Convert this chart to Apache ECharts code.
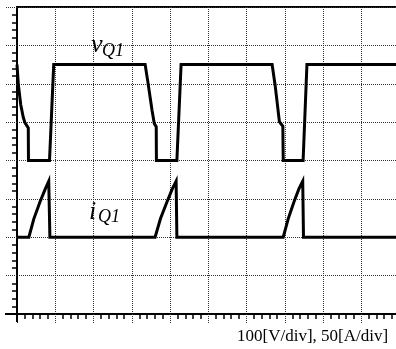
<!DOCTYPE html>
<html>
<head>
<meta charset="utf-8">
<script src="https://cdn.jsdelivr.net/npm/echarts@6/dist/echarts.min.js"></script>
<style>
  html, body { margin: 0; padding: 0; background: #fff; overflow: hidden; }
  /* the plot runs a few pixels past the right edge of the window */
  #chart { width: 400px; height: 349px; }
</style>
</head>
<body>
<div id="chart"></div>
<script>
// Time axis in screen divisions; voltage in V (100 V/div), current in A (50 A/div)
const vTime = [0, 0.034, 0.097, 0.165, 0.21, 0.295, 0.3, 0.85, 0.96,
               3.35, 3.43, 3.53, 3.59, 3.64, 3.645, 4.18, 4.29,
               6.67, 6.75, 6.86, 6.95, 6.96, 7.48, 7.58, 10];
const vQ1 =   [250, 199, 146, 112, 98, 85, 0, 0, 250,
               250, 199, 131, 96, 88, 0, 0, 250,
               250, 195, 101, 89, 0, 0, 250, 250];

const iTime = [0, 0.31, 0.44, 0.6, 0.74, 0.83, 0.86,
               3.61, 3.75, 3.92, 4.06, 4.16, 4.18,
               6.96, 7.09, 7.24, 7.37, 7.47, 7.49, 10];
const iQ1 =   [0, 0, 24, 46, 63, 73, 0,
               0, 24, 46, 63, 73, 0,
               0, 24, 46, 63, 73, 0, 0];

// Trace offsets on screen (divisions from the bottom edge)
const V_PER_DIV = 100, V_ZERO_DIV = 4;
const A_PER_DIV = 50, A_ZERO_DIV = 2;

const vPoints = vTime.map((t, k) => [t, vQ1[k] / V_PER_DIV + V_ZERO_DIV]);
const iPoints = iTime.map((t, k) => [t, iQ1[k] / A_PER_DIV + A_ZERO_DIV]);

const gridDot = { color: '#333', width: 1, type: [1, 1] };
const serif = '"Liberation Serif", "DejaVu Serif", serif';

const chart = echarts.init(document.getElementById('chart'), null, { renderer: 'canvas' });
chart.setOption({
  animation: false,
  backgroundColor: '#fff',
  grid: {
    left: 17, right: 0.5, top: 7, bottom: 35,
    show: true, borderColor: '#000', borderWidth: 2
  },
  xAxis: {
    type: 'value', min: 0, max: 10, interval: 1,
    axisLine: { lineStyle: { color: '#000', width: 2 } },
    axisTick: { show: true, length: 9, lineStyle: gridDot },
    minorTick: { show: true, splitNumber: 5, length: 5, lineStyle: { color: '#000', width: 1.5 } },
    axisLabel: { show: false },
    splitLine: { show: true, lineStyle: gridDot }
  },
  yAxis: {
    type: 'value', min: 0, max: 8, interval: 1,
    axisLine: { show: true, lineStyle: { color: '#000', width: 2 } },
    axisTick: { show: true, length: 11, lineStyle: gridDot },
    minorTick: { show: true, splitNumber: 5, length: 5, lineStyle: { color: '#000', width: 1.5 } },
    axisLabel: { show: false },
    splitLine: { show: true, lineStyle: gridDot }
  },
  series: [
    {
      name: 'vQ1', type: 'line', data: vPoints, showSymbol: false,
      lineStyle: { color: '#000', width: 3, join: 'miter' }
    },
    {
      name: 'iQ1', type: 'line', data: iPoints, showSymbol: false,
      lineStyle: { color: '#000', width: 3, join: 'miter' }
    }
  ],
  graphic: [
    // axis lines carried a little past the lower-left corner
    { type: 'line', z: 5, shape: { x1: 5, y1: 314, x2: 18, y2: 314 },
      style: { stroke: '#000', lineWidth: 2 } },
    { type: 'line', z: 5, shape: { x1: 17, y1: 313, x2: 17, y2: 322 },
      style: { stroke: '#000', lineWidth: 2 } },
    { type: 'text', left: 91, top: 32, z: 10,
      style: { text: 'v', font: 'italic 26px ' + serif, fill: '#000' } },
    { type: 'text', left: 102, top: 42, z: 10,
      style: { text: 'Q1', font: 'italic 18px ' + serif, fill: '#000' } },
    { type: 'text', left: 89, top: 199, z: 10,
      style: { text: 'i', font: 'italic 26px ' + serif, fill: '#000' } },
    { type: 'text', left: 98, top: 208, z: 10,
      style: { text: 'Q1', font: 'italic 18px ' + serif, fill: '#000' } },
    { type: 'text', left: 237, top: 328, z: 10,
      style: { text: '100[V/div], 50[A/div]', font: '17px ' + serif, fill: '#000' } }
  ]
});
</script>
</body>
</html>
